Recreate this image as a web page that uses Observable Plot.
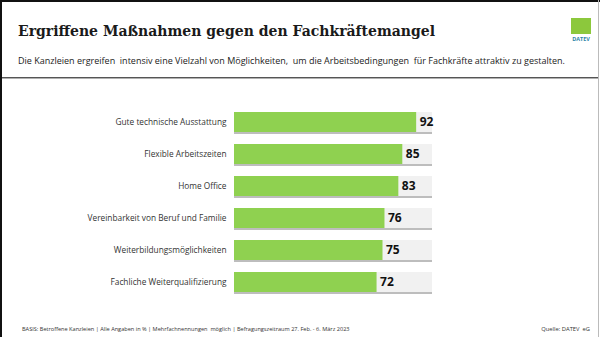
<!DOCTYPE html>
<html>
<head>
<meta charset="utf-8">
<script src="https://cdn.jsdelivr.net/npm/d3@7"></script>
<script src="https://cdn.jsdelivr.net/npm/@observablehq/plot@0.6"></script>
<style>
  html, body { margin: 0; padding: 0; background: #fff; }
  #page { position: relative; width: 600px; height: 337px; overflow: hidden; background: #fff; }
  .abs { position: absolute; }
  #title { left: 18px; top: 24px; font: bold 14px "DejaVu Serif", serif; color: #1a1a1a; white-space: nowrap; line-height: 15px; }
  #subtitle { left: 18px; top: 56px; font: 9px "Open Sans", sans-serif; color: #222; white-space: pre; line-height: 9px; }
  #footer { left: 22px; top: 326px; font: 5.6px "Open Sans", sans-serif; color: #333; white-space: pre; line-height: 6px; }
  #source { right: 10px; top: 326px; font: 5.8px "Open Sans", sans-serif; color: #333; white-space: pre; line-height: 6px; }
  #logo { left: 571px; top: 18px; width: 20px; height: 16px; background: #8cc83c; }
  #logotext { left: 568px; top: 36px; width: 26px; text-align: center; font: bold 5.5px "Open Sans", sans-serif; color: #2e86a8; line-height: 6px; }
  #sep1 { left: 2px; top: 77px; width: 596px; height: 1px; background: #555; }
  #sep2 { left: 2px; top: 78px; width: 596px; height: 1px; background: #b0b0b0; }
  #btop { left: 0; top: 0; width: 600px; height: 2px; background: #111; }
  #bleft { left: 0; top: 0; width: 2px; height: 337px; background: #111; }
  #bright { right: 1px; top: 0; width: 1px; height: 337px; background: #bbb; }
  #chart { left: 0; top: 85px; }
</style>
</head>
<body>
<div id="page">
  <div id="btop" class="abs"></div>
  <div id="bleft" class="abs"></div>
  <div id="bright" class="abs"></div>
  <div id="title" class="abs">Ergriffene Maßnahmen gegen den Fachkräftemangel</div>
  <div id="subtitle" class="abs">Die Kanzleien ergreifen  intensiv eine Vielzahl von Möglichkeiten,  um die Arbeitsbedingungen  für Fachkräfte attraktiv zu gestalten.</div>
  <div id="logo" class="abs"></div>
  <div id="logotext" class="abs">DATEV</div>
  <div id="sep1" class="abs"></div>
  <div id="sep2" class="abs"></div>
  <div id="chart" class="abs"></div>
  <div id="footer" class="abs">BASIS: Betroffene Kanzleien | Alle Angaben in % | Mehrfachnennungen  möglich | Befragungszeitraum 27. Feb. - 6. März 2023</div>
  <div id="source" class="abs">Quelle: DATEV  eG</div>
</div>
<script>
const categories = [
  "Gute technische Ausstattung",
  "Flexible Arbeitszeiten",
  "Home Office",
  "Vereinbarkeit von Beruf und Familie",
  "Weiterbildungsmöglichkeiten",
  "Fachliche Weiterqualifizierung"
];
const values = [92, 85, 83, 76, 75, 72];
const scaleMax = 100;

const data = categories.map((c, i) => ({category: c, value: values[i]}));

const chart = Plot.plot({
  width: 600,
  height: 230,
  marginLeft: 234,
  marginRight: 168,
  marginTop: 18,
  marginBottom: 14.5,
  style: {background: "transparent", overflow: "visible"},
  x: {domain: [0, scaleMax], axis: null},
  y: {domain: categories, paddingInner: 0.39, paddingOuter: 0.195, label: null},
  marks: [
    Plot.axisY({tickSize: 0, tickPadding: 8, fontSize: 8.3, fontFamily: "Open Sans", fill: "#333", label: null}),
    Plot.barX(data, {y: "category", x1: () => 0, x2: () => scaleMax, fill: "#bdbdbd", dy: 2}),
    Plot.barX(data, {y: "category", x1: () => 0, x2: () => scaleMax, fill: "#f1f1f1"}),
    Plot.barX(data, {y: "category", x1: () => 0, x2: "value", fill: "#8fd150"}),
    Plot.text(data, {y: "category", x: "value", text: d => String(d.value), textAnchor: "start", dx: 3, fontSize: 12, fontWeight: "bold", fontFamily: "Open Sans", fill: "#111"})
  ]
});
document.getElementById("chart").appendChild(chart);
</script>
</body>
</html>
